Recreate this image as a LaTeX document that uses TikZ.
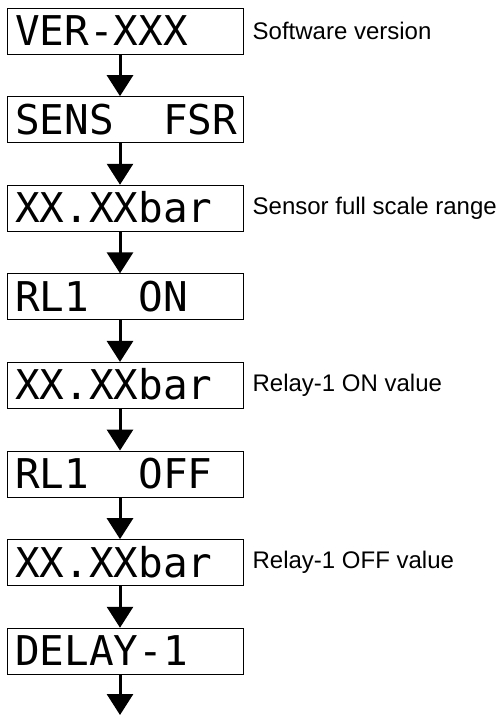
\documentclass[tikz,border=0pt]{standalone}
\usepackage{fontspec}
\setmainfont{Liberation Sans}
\setmonofont{DejaVu Sans Mono}
\usetikzlibrary{positioning,arrows.meta}
\newcommand{\lcdgap}{\hspace*{1.204em}}

\begin{document}
\begin{tikzpicture}[x=1pt, y=1pt, node distance={88.6pt},
  lcd/.style = {draw, line width=0.9pt, minimum width=236pt, minimum height=46pt,
    text width=220pt, inner xsep=8pt, align=left, text height=29pt, text depth=0pt,
    font=\ttfamily\fontsize{41}{41}\selectfont},
  note/.style = {inner sep=0pt, font=\fontsize{24}{24}\selectfont},
  arr/.style = {-{Triangle[width=26pt,length=21pt]}, line width=3pt}]
\useasboundingbox (0,0) rectangle (499,-715);

\node[lcd] (ver) at (125,-31) {VER-XXX};
\node[lcd] (sens)   [below of=ver]    {SENS\lcdgap FSR};
\node[lcd] (fsr)    [below of=sens]   {XX.XXbar};
\node[lcd] (rlon)   [below of=fsr]    {RL1\lcdgap ON};
\node[lcd] (onval)  [below of=rlon]   {XX.XXbar};
\node[lcd] (rloff)  [below of=onval]  {RL1\lcdgap OFF};
\node[lcd] (offval) [below of=rloff]  {XX.XXbar};
\node[lcd] (delay)  [below of=offval] {DELAY-1};
\coordinate (next) at (120,-715);

\node[note] (vernote) [right=9pt of ver]    {Software version};
\node[note] (fsrnote) [right=9pt of fsr]    {Sensor full scale range};
\node[note] (onnote)  [right=9pt of onval]  {Relay-1 ON value};
\node[note] (offnote) [right=9pt of offval] {Relay-1 OFF value};

\draw[arr] ([xshift=-5pt]ver.south) -- ([xshift=-5pt]sens.north);
\draw[arr] ([xshift=-5pt]sens.south) -- ([xshift=-5pt]fsr.north);
\draw[arr] ([xshift=-5pt]fsr.south) -- ([xshift=-5pt]rlon.north);
\draw[arr] ([xshift=-5pt]rlon.south) -- ([xshift=-5pt]onval.north);
\draw[arr] ([xshift=-5pt]onval.south) -- ([xshift=-5pt]rloff.north);
\draw[arr] ([xshift=-5pt]rloff.south) -- ([xshift=-5pt]offval.north);
\draw[arr] ([xshift=-5pt]offval.south) -- ([xshift=-5pt]delay.north);
\draw[arr] ([xshift=-5pt]delay.south) -- (next);

\end{tikzpicture}
\end{document}
